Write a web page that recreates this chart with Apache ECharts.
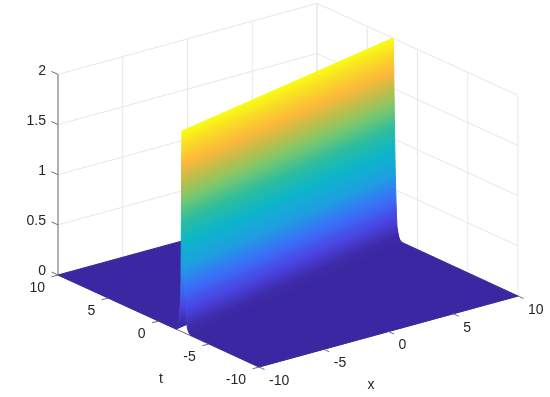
<!DOCTYPE html>
<html>
<head>
<meta charset="utf-8">
<style>html,body{margin:0;padding:0;background:#fff}#main{width:550px;height:397px}</style>
<script src="https://cdn.jsdelivr.net/npm/echarts@6/dist/echarts.min.js"></script>
</head>
<body>
<div id="main"></div>
<script>
// tick values
var xTicks = [-10, -5, 0, 5, 10];
var tTicks = [10, 5, 0, -5, -10];
var zTicks = [0, 0.5, 1, 1.5, 2];
var zLabels = ["0", "0.5", "1", "1.5", "2"];

// ridge position (t) read at x=-10 and x=10
var ridgeEnds = [-2.34, 2.44];
// cross section of the ridge, from the far side (t>ridge) to the near side (t<ridge)
var rowOffset = [14, 0.6, 0.5, 0.4, 0.3, 0.2, 0.13, 0.1, 0.08, 0.06, 0.03, 0, -0.04, -0.08, -0.12, -0.16, -0.2, -0.25, -0.3, -0.35, -0.4, -0.5, -0.6, -0.7, -0.85, -14];
var rowHeight = [0, 0, 0.03, 0.07, 0.13, 0.23, 0.32, 0.5, 0.85, 1.3, 1.8, 2, 1.9, 1.67, 1.37, 1.07, 0.82, 0.57, 0.4, 0.25, 0.14, 0.08, 0.04, 0.02, 0.005, 0];

// colormap stops (height fraction, colour)
var mapAt = [0, 0.03, 0.11, 0.22, 0.33, 0.45, 0.56, 0.67, 0.76, 0.84, 0.92, 1];
var mapColor = ["#3a27a1", "#3c2aa8", "#4a42e0", "#3a6ff8", "#1e9fe0", "#0cb5c9", "#2ebd9e", "#7fc86a", "#c4bd48", "#fdb83a", "#f9d827", "#f9fb15"];

// oblique projection of the MATLAB view, in pixels
var origin = [58, 275];
var perX = [12.95, -3.55];
var perT = [10.05, 4.6];
var perZ = 100.3;
var axisColor = "#6e6e6e";

function project(x, t, z) {
	var a = x + 10, b = 10 - t;
	return [origin[0] + a * perX[0] + b * perT[0], origin[1] + a * perX[1] + b * perT[1] - z * perZ];
}

function hex(c) {
	return [parseInt(c.substr(1, 2), 16), parseInt(c.substr(3, 2), 16), parseInt(c.substr(5, 2), 16)];
}

function colorAt(z) {
	var f = Math.max(0, Math.min(1, z / 2));
	for (var i = 1; i < mapAt.length; i++) {
		if (f <= mapAt[i]) {
			var k = (f - mapAt[i - 1]) / (mapAt[i] - mapAt[i - 1]);
			var a = hex(mapColor[i - 1]), b = hex(mapColor[i]);
			return "rgb(" + Math.round(a[0] + (b[0] - a[0]) * k) + "," + Math.round(a[1] + (b[1] - a[1]) * k) + "," + Math.round(a[2] + (b[2] - a[2]) * k) + ")";
		}
	}
	return mapColor[mapColor.length - 1];
}

function rowPoint(api, j, side) {
	var t = Math.max(-10, Math.min(10, ridgeEnds[side] + rowOffset[j]));
	var p = project(side == 0 ? -10 : 10, t, rowHeight[j]);
	return api.coord(p);
}

function renderCell(params, api) {
	var j = api.value(0);
	var a = rowPoint(api, j, 0), b = rowPoint(api, j, 1), c = rowPoint(api, j + 1, 1), d = rowPoint(api, j + 1, 0);
	var za = rowHeight[j], zb = rowHeight[j + 1];
	var fill = colorAt(za);
	if (za != zb) {
		var ex = b[0] - a[0], ey = b[1] - a[1], len = Math.sqrt(ex * ex + ey * ey);
		var nx = -ey / len, ny = ex / len;
		var s = (d[0] - a[0]) * nx + (d[1] - a[1]) * ny;
		var stops = [];
		for (var i = 0; i <= 6; i++) {
			stops.push({ offset: i / 6, color: colorAt(za + (zb - za) * i / 6) });
		}
		fill = new echarts.graphic.LinearGradient(a[0], a[1], a[0] + nx * s, a[1] + ny * s, stops, true);
	}
	return {
		type: "polygon",
		shape: { points: [a, b, c, d] },
		style: { fill: fill, stroke: fill, lineWidth: 1 }
	};
}

function lineItem(api, p, q, color, width) {
	var a = api.coord(p), b = api.coord(q);
	return {
		type: "line",
		shape: { x1: a[0], y1: a[1], x2: b[0], y2: b[1] },
		style: { stroke: color, lineWidth: width }
	};
}

// back walls: t=10 and x=10, floor axes stay under the surface
function renderWalls(params, api) {
	var list = [], i, c = "#e7e7e7";
	for (i = 0; i < zTicks.length; i++) {
		list.push(lineItem(api, project(-10, 10, zTicks[i]), project(10, 10, zTicks[i]), c, 1));
		list.push(lineItem(api, project(10, 10, zTicks[i]), project(10, -10, zTicks[i]), c, 1));
	}
	for (i = 0; i < xTicks.length; i++) {
		list.push(lineItem(api, project(xTicks[i], 10, 0), project(xTicks[i], 10, 2), c, 1));
	}
	for (i = 0; i < tTicks.length; i++) {
		list.push(lineItem(api, project(10, tTicks[i], 0), project(10, tTicks[i], 2), c, 1));
	}
	list.push(lineItem(api, project(-10, 10, 0), project(-10, -10, 0), axisColor, 1));
	list.push(lineItem(api, project(-10, -10, 0), project(10, -10, 0), axisColor, 1));
	return { type: "group", children: list };
}

function textItem(api, p, dx, dy, str, align, fontStyle) {
	var a = api.coord(p);
	return {
		type: "text",
		x: a[0] + dx,
		y: a[1] + dy,
		style: {
			text: str,
			fill: "#262626",
			font: (fontStyle || "normal") + " 14px 'Liberation Sans', Arial, sans-serif",
			align: align,
			verticalAlign: "middle"
		}
	};
}

function renderAxes(params, api) {
	var list = [], i;
	list.push(lineItem(api, project(-10, 10, 0), project(-10, 10, 2), axisColor, 1));
	for (i = 0; i < zTicks.length; i++) {
		list.push(lineItem(api, project(-10, 10, zTicks[i]), project(-10, 10.65, zTicks[i]), axisColor, 1));
		list.push(textItem(api, project(-10, 10, zTicks[i]), -12, -3.5, zLabels[i], "right"));
	}
	for (i = 0; i < tTicks.length; i++) {
		list.push(lineItem(api, project(-10, tTicks[i], 0), project(-10.5, tTicks[i], 0), axisColor, 1));
		list.push(textItem(api, project(-10, tTicks[i], 0), -13, 13, String(tTicks[i]), "right"));
	}
	for (i = 0; i < xTicks.length; i++) {
		list.push(lineItem(api, project(xTicks[i], -10, 0), project(xTicks[i], -10.55, 0), axisColor, 1));
		list.push(textItem(api, project(xTicks[i], -10, 0), 10, 14, String(xTicks[i]), "left"));
	}
	list.push(textItem(api, [161, 379], 0, 0, "t", "center"));
	list.push(textItem(api, [371, 385], 0, 0, "x", "center"));
	var rotated = textItem(api, [17, 176], 0, 0, "|q[1]|", "center", "italic");
	rotated.rotation = Math.PI / 2;
	rotated.originX = rotated.x;
	rotated.originY = rotated.y;
	list.push(rotated);
	return { type: "group", children: list };
}

var cells = [];
for (var r = 0; r < rowOffset.length - 1; r++) {
	cells.push([r]);
}

var chart = echarts.init(document.getElementById("main"), null, { renderer: "canvas" });
chart.setOption({
	animation: false,
	backgroundColor: "#fff",
	grid: { left: 0, right: 0, top: 0, bottom: 0 },
	xAxis: { type: "value", min: 0, max: 550, show: false },
	yAxis: { type: "value", min: 0, max: 397, inverse: true, show: false },
	series: [
		{ type: "custom", clip: false, renderItem: renderWalls, data: [[0]], silent: true },
		{ type: "custom", clip: false, renderItem: renderCell, data: cells, silent: true },
		{ type: "custom", clip: false, renderItem: renderAxes, data: [[0]], silent: true }
	]
});
</script>
</body>
</html>
